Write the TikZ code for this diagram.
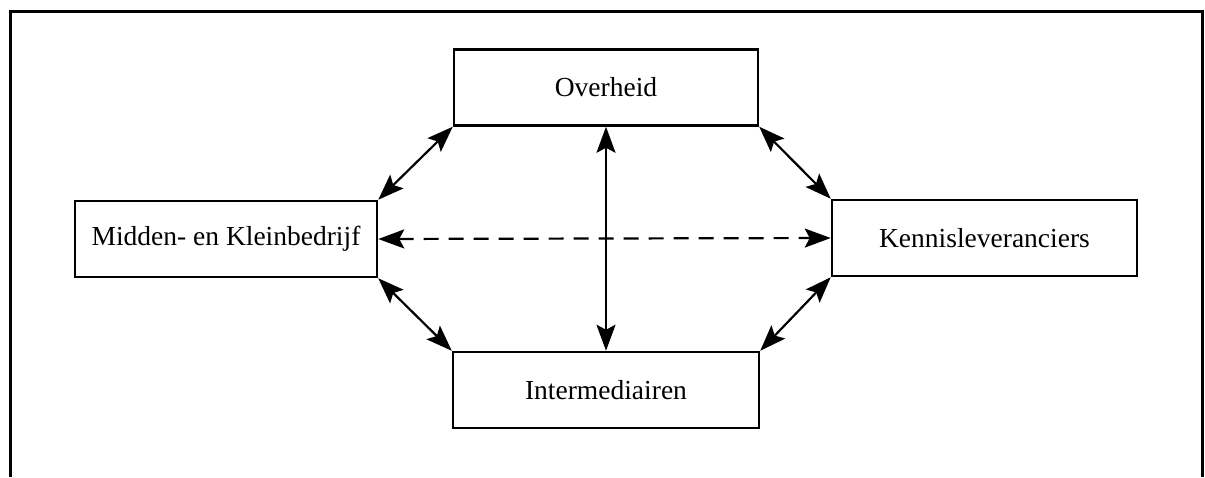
\documentclass[tikz,border=0pt]{standalone}
\usepackage{fontspec}
\setmainfont{Liberation Serif}
\usetikzlibrary{arrows.meta}
\begin{document}
\begin{tikzpicture}[x=1pt,y=-1pt,
  actor/.style={draw,line width=2.5pt,minimum width=304pt,minimum height=76pt,
    inner sep=0pt,font=\fontsize{27.5}{30}\selectfont},
  headtip/.tip={Stealth[length=26pt,width=19pt,inset=5pt]},
  link/.style={line width=2.2pt,headtip-headtip},
  frame/.style={line width=3pt}]
\useasboundingbox (0,0) rectangle (1205,477);
% open frame round the scheme
\draw[frame] (10,477) -- (10,11) -- (1202,11) -- (1202,477);
% the four parties
\node[actor] (ov) at (606,87.5) {Overheid};
\node[actor,minimum width=302pt] (mkb) at (226,239) {Midden- en Kleinbedrijf};
\node[actor,minimum width=305pt] (kl) at (984.5,238) {Kennisleveranciers};
\node[actor,minimum width=306pt] (im) at (606,390) {Intermediairen};
% relations between them
\draw[link] (ov.south west) -- (mkb.north east);
\draw[link] (mkb.south east) -- (im.north west);
\draw[link] (ov.south east) -- (kl.north west);
\draw[link] (kl.south west) -- (im.north east);
\draw[link] (ov.south) -- (im.north);
\draw[link,dash pattern=on 15pt off 10pt] (mkb.east) -- (kl.west);
\end{tikzpicture}
\end{document}
